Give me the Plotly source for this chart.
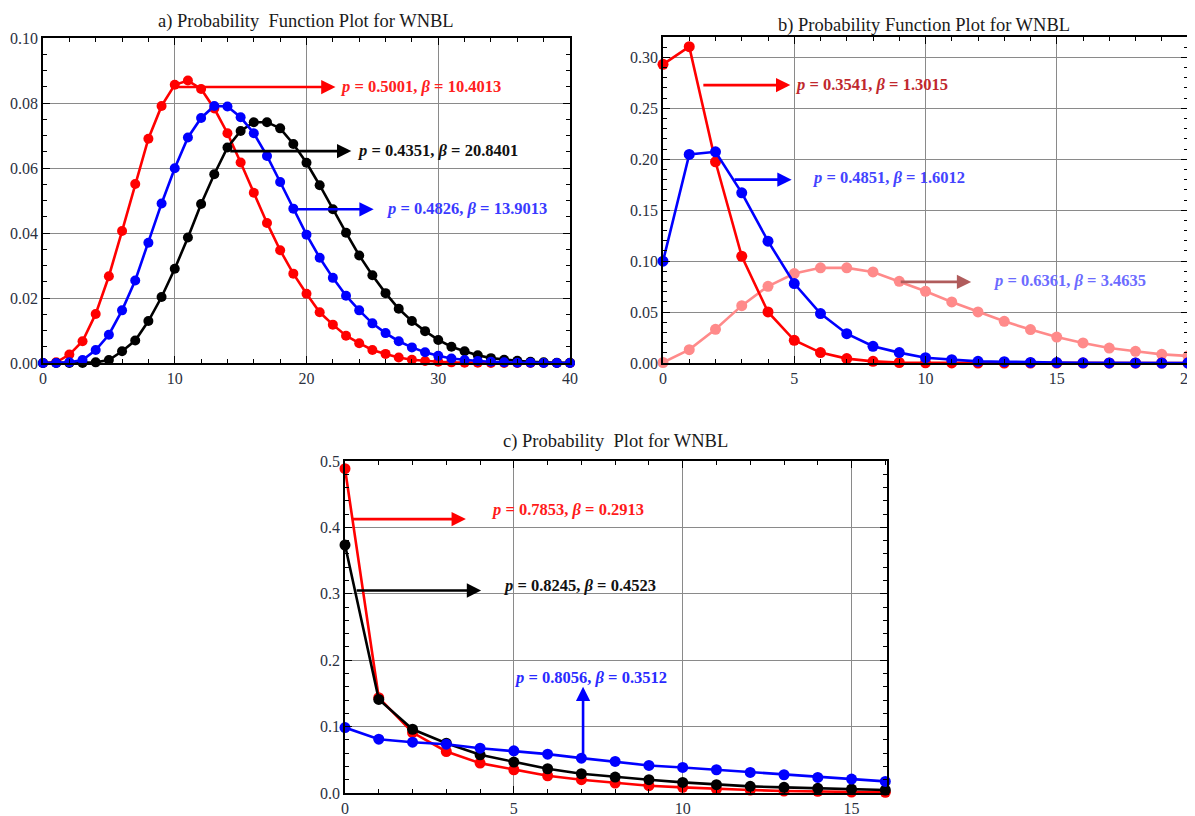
import plotly.graph_objects as go

# ---------------- data ----------------
xa = list(range(41))
a_red = [0, 0.0002, 0.0026, 0.0067, 0.0151, 0.0267, 0.0406, 0.0551, 0.069, 0.0791, 0.0856,
         0.0869, 0.0843, 0.0783, 0.0707, 0.0617, 0.0524, 0.0431, 0.0347, 0.0275, 0.0213,
         0.0156, 0.0118, 0.0084, 0.0061, 0.0040, 0.0028, 0.0017, 0.0010, 0.0006, 0.0004,
         0.0002, 0.0001, 0.0001, 0, 0, 0, 0, 0, 0, 0]
a_blue = [0, 0, 0.0002, 0.0009, 0.004, 0.0087, 0.0162, 0.0254, 0.037, 0.0491, 0.0599,
          0.0694, 0.0754, 0.0791, 0.0789, 0.0756, 0.0707, 0.0637, 0.0557, 0.0475, 0.0395,
          0.0324, 0.0262, 0.0207, 0.0162, 0.0122, 0.0092, 0.0067, 0.0048, 0.0033, 0.0022,
          0.0014, 0.0009, 0.0006, 0.0004, 0.0002, 0.0001, 0.0001, 0, 0, 0]
a_black = [0, 0, 0, 0, 0.0002, 0.0009, 0.0036, 0.0069, 0.0129, 0.0203, 0.029,
           0.0386, 0.0489, 0.0581, 0.0663, 0.0714, 0.0741, 0.0741, 0.0722, 0.0674, 0.0616,
           0.0547, 0.0473, 0.0401, 0.0331, 0.027, 0.0215, 0.0167, 0.0129, 0.0098, 0.0071,
           0.005, 0.0036, 0.0024, 0.0015, 0.001, 0.0007, 0.0004, 0.0002, 0.0001, 0.0001]

xb = list(range(21))
b_red = [0.2932, 0.3105, 0.1975, 0.1048, 0.0501, 0.0223, 0.0102, 0.0043, 0.0016, 0.0005,
         0.0002, 0.0001, 0, 0, 0, 0, 0, 0, 0, 0, 0]
b_blue = [0.0999, 0.2047, 0.2073, 0.167, 0.1196, 0.078, 0.0485, 0.0288, 0.0164, 0.0102,
          0.0052, 0.0033, 0.0016, 0.0013, 0.0006, 0.0004, 0.0002, 0.0001, 0.0001, 0, 0]
b_pink = [0.0005, 0.0131, 0.0331, 0.0563, 0.0753, 0.0878, 0.0934, 0.0934, 0.0894, 0.0802,
          0.0704, 0.0599, 0.0501, 0.0409, 0.0328, 0.0255, 0.0197, 0.0147, 0.0115, 0.0085, 0.0069]

xc = list(range(17))
c_red = [0.4885, 0.1435, 0.091, 0.0625, 0.045, 0.035, 0.026, 0.02, 0.015, 0.011,
         0.0085, 0.006, 0.0045, 0.003, 0.0025, 0.0015, 0.001]
c_black = [0.3735, 0.141, 0.096, 0.075, 0.0575, 0.0465, 0.0365, 0.029, 0.024, 0.02,
           0.016, 0.0125, 0.01, 0.0085, 0.007, 0.006, 0.0045]
c_blue = [0.0985, 0.081, 0.0765, 0.0735, 0.0675, 0.0635, 0.0585, 0.0525, 0.0475, 0.0415,
          0.0385, 0.035, 0.031, 0.0275, 0.0235, 0.021, 0.0175]

titles = ["a) Probability  Function Plot for WNBL",
          "b) Probability Function Plot for WNBL",
          "c) Probability  Plot for WNBL"]

labels_a = ["<i>p</i> = 0.5001, <i>β</i> = 10.4013",
            "<i>p</i> = 0.4351, <i>β</i> = 20.8401",
            "<i>p</i> = 0.4826, <i>β</i> = 13.9013"]
labels_b = ["<i>p</i> = 0.3541, <i>β</i> = 1.3015",
            "<i>p</i> = 0.4851, <i>β</i> = 1.6012",
            "<i>p</i> = 0.6361, <i>β</i> = 3.4635"]
labels_c = ["<i>p</i> = 0.7853, <i>β</i> = 0.2913",
            "<i>p</i> = 0.8245, <i>β</i> = 0.4523",
            "<i>p</i> = 0.8056, <i>β</i> = 0.3512"]

# ---------------- figure ----------------
# the page body has an 8px margin, so the figure is sized to the visible window area
OFF = 8
WIN_W, WIN_H = 1195, 816
W, H = WIN_W - OFF, WIN_H - OFF
FONT = "Liberation Serif, Times New Roman, serif"
RED, BLUE, BLACK, PINK = "#ff0000", "#0000ff", "#000000", "#ff8a8a"

fig = go.Figure()

def add_series(x, y, color, xa_, ya_, msize=10):
    fig.add_trace(go.Scatter(
        x=x, y=y, mode="lines+markers", xaxis=xa_, yaxis=ya_,
        line=dict(color=color, width=2.6),
        marker=dict(color=color, size=msize),
        cliponaxis=False, showlegend=False, hoverinfo="skip"))

add_series(xa, a_red, RED, "x", "y")
add_series(xa, a_black, BLACK, "x", "y")
add_series(xa, a_blue, BLUE, "x", "y")

add_series(xb, b_pink, PINK, "x2", "y2", 11)
add_series(xb, b_red, RED, "x2", "y2", 11)
add_series(xb, b_blue, BLUE, "x2", "y2", 11)

add_series(xc, c_red, RED, "x3", "y3", 11)
add_series(xc, c_black, BLACK, "x3", "y3", 11)
add_series(xc, c_blue, BLUE, "x3", "y3", 11)


def px_x(X):
    return (X - OFF) / W


def px_y(Y):
    return 1 - (Y - OFF) / H


def px_dom(x0, x1, y0, y1):
    return [px_x(x0), px_x(x1)], [px_y(y1), px_y(y0)]


def axis(domain, rng, dtick, minor, anchor, fmt=None, grid=True):
    d = dict(domain=domain, range=rng, dtick=dtick, tick0=0, anchor=anchor,
             automargin=False, ticklabeloverflow="allow",
             showline=True, linecolor="black", linewidth=1.6, mirror="ticks",
             ticks="inside", ticklen=7, tickwidth=1.4, tickcolor="black",
             minor=dict(dtick=minor, tick0=0, ticks="inside", ticklen=4, tickwidth=1.2,
                        tickcolor="black", showgrid=False),
             showgrid=grid, gridcolor="#8a8a8a", gridwidth=1.4, zeroline=False,
             tickfont=dict(family=FONT, size=16, color="#2b3140"), fixedrange=True)
    if fmt:
        d["tickformat"] = fmt
    return d


xdA, ydA = px_dom(43, 570, 38, 363)
xdB, ydB = px_dom(663, 1188, 37, 363)
xdC, ydC = px_dom(345, 887, 461, 793)

fig.update_layout(
    width=W, height=H, margin=dict(l=0, r=0, t=0, b=0, autoexpand=False),
    paper_bgcolor="white", plot_bgcolor="white",
    xaxis=axis(xdA, [0, 40], 10, 2, "y"),
    yaxis=axis(ydA, [0, 0.10], 0.02, 0.005, "x", ".2f"),
    xaxis2=axis(xdB, [0, 20], 5, 1, "y2"),
    yaxis2=axis(ydB, [0, 0.32], 0.05, 0.01, "x2", ".2f"),
    xaxis3=axis(xdC, [0, 16.05], 5, 1, "y3"),
    yaxis3=axis(ydC, [0, 0.5], 0.1, 0.02, "x3", ".1f"),
)

ann = []
# titles
for txt, cx, cy in [(titles[0], 306, 21), (titles[1], 924, 25), (titles[2], 616, 441)]:
    ann.append(dict(text=txt, x=px_x(cx), y=px_y(cy), xref="paper", yref="paper",
                    xanchor="center", yanchor="middle", showarrow=False,
                    font=dict(family=FONT, size=18.5, color="#1a1a1a")))


def arrow(xr, yr, x0, y0, x1, y1, color):
    ann.append(dict(text="", x=x1, y=y1, ax=x0, ay=y0, xref=xr, yref=yr, axref=xr, ayref=yr,
                    showarrow=True, arrowhead=2, arrowsize=1.1, arrowwidth=2.6,
                    arrowcolor=color, standoff=0, startstandoff=0))


def label(xr, yr, x, y, txt, color):
    ann.append(dict(text="<b>" + txt + "</b>", x=x, y=y, xref=xr, yref=yr,
                    xanchor="left", yanchor="middle", showarrow=False,
                    font=dict(family=FONT, size=16.5, color=color)))

# panel a
arrow("x", "y", 10.0, 0.0849, 22.2, 0.0849, RED)
label("x", "y", 22.4, 0.0851, labels_a[0], "#ff2020")
arrow("x", "y", 14.1, 0.0652, 23.4, 0.0652, BLACK)
label("x", "y", 23.7, 0.0654, labels_a[1], "#111111")
arrow("x", "y", 18.8, 0.0473, 25.1, 0.0473, BLUE)
label("x", "y", 25.9, 0.0475, labels_a[2], "#3a3aff")

# panel b
arrow("x2", "y2", 1.48, 0.2728, 4.85, 0.2728, RED)
label("x2", "y2", 4.97, 0.273, labels_b[0], "#c0282d")
arrow("x2", "y2", 2.67, 0.180, 4.9, 0.180, BLUE)
label("x2", "y2", 5.59, 0.182, labels_b[1], "#4444ff")
arrow("x2", "y2", 9.0, 0.0796, 11.74, 0.0796, "#b05c5c")
label("x2", "y2", 12.5, 0.0805, labels_b[2], "#6c6cff")

# panel c
arrow("x3", "y3", 0.19, 0.4125, 3.58, 0.4125, RED)
label("x3", "y3", 4.26, 0.4265, labels_c[0], "#ff1a1a")
arrow("x3", "y3", 0.3, 0.305, 4.03, 0.305, BLACK)
label("x3", "y3", 4.63, 0.313, labels_c[1], "#111111")
arrow("x3", "y3", 7.05, 0.055, 7.05, 0.160, BLUE)
label("x3", "y3", 4.94, 0.1735, labels_c[2], "#2a2aff")

fig.update_layout(annotations=ann)

fig.write_html("out.html")
